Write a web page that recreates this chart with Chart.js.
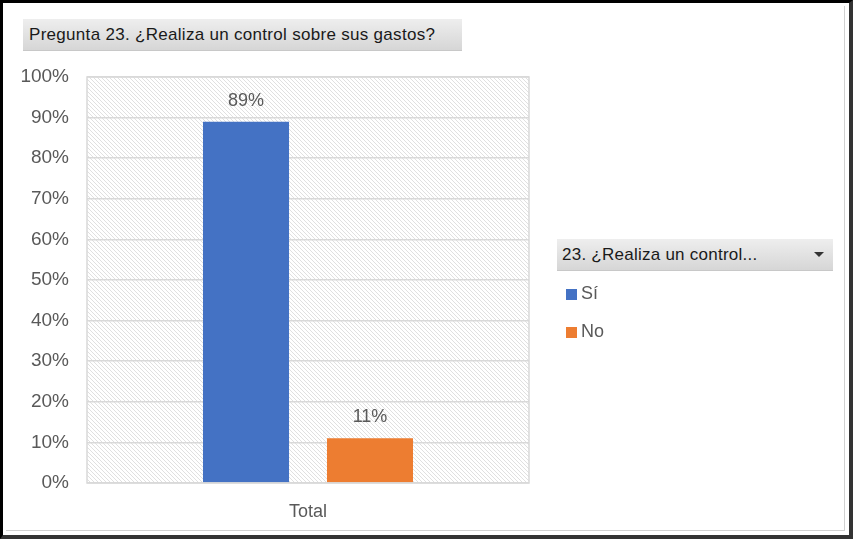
<!DOCTYPE html>
<html>
<head>
<meta charset="utf-8">
<script src="https://cdn.jsdelivr.net/npm/chart.js@4/dist/chart.umd.min.js"></script>
<style>
  html, body { margin:0; padding:0; background:#fff; }
  #wrap { position:relative; width:853px; height:539px; overflow:hidden; font-family:"Liberation Sans", Arial, sans-serif; }
  #c { position:absolute; left:0; top:0; }
  #frame { position:absolute; left:0; top:0; width:853px; height:539px; box-sizing:border-box;
           border-left:3px solid #000; border-top:3px solid #000; border-right:4px solid #333; border-bottom:4px solid #333; pointer-events:none; }
  #frame2 { position:absolute; left:3px; top:3px; right:4px; bottom:4px; border-right:1px solid #d0d0d0; border-bottom:1px solid #d0d0d0; }
  .box { position:absolute; box-sizing:border-box; background:linear-gradient(#eeeeee, #d6d6d6); border-bottom:1px solid #c8c8c8; color:#1a1a1a; font-size:17px; white-space:nowrap; }
  #title { left:23px; top:19px; width:439px; height:32px; line-height:32px; padding-left:6px; letter-spacing:0.3px; }
  #lhead { left:557px; top:239px; width:276px; height:32px; line-height:32px; padding-left:5px; letter-spacing:0.25px; }
  #arrow { position:absolute; right:9px; top:13px; width:0; height:0; border-left:5px solid transparent; border-right:5px solid transparent; border-top:5px solid #333; }
  .item { position:absolute; left:566px; font-size:18px; color:#595959; height:20px; line-height:20px; }
  .sw { display:inline-block; width:11px; height:11px; margin-right:4px; vertical-align:-1px; }
</style>
</head>
<body>
<div id="wrap">
  <canvas id="c" width="853" height="539"></canvas>
  <div id="title" class="box">Pregunta 23. ¿Realiza un control sobre sus gastos?</div>
  <div id="lhead" class="box">23. ¿Realiza un control...<span id="arrow"></span></div>
  <div id="legend"></div>
  <div id="frame"><div id="frame2"></div></div>
</div>
<script>
const categories = ['Total'];
const seriesLabels = ['Sí', 'No'];
const siValues = [89];
const noValues = [11];
const seriesColors = ['#4472C4', '#ED7D31'];
const yTickValues = [0, 10, 20, 30, 40, 50, 60, 70, 80, 90, 100];

// legend
const legendEl = document.getElementById('legend');
const legendTops = [283, 321];
seriesLabels.forEach((lab, i) => {
  const d = document.createElement('div');
  d.className = 'item';
  d.style.top = legendTops[i] + 'px';
  d.innerHTML = '<span class="sw" style="background:' + seriesColors[i] + '"></span>' + lab;
  legendEl.appendChild(d);
});

// hatch pattern
function makePattern(ctx) {
  const t = document.createElement('canvas');
  t.width = 4; t.height = 4;
  const g = t.getContext('2d');
  g.fillStyle = '#ffffff';
  g.fillRect(0, 0, 4, 4);
  g.fillStyle = '#e0e0e0';
  for (let y = 0; y < 4; y++) {
    g.fillRect(y, y, 1, 1);
  }
  return ctx.createPattern(t, 'repeat');
}

const bgPlugin = {
  id: 'bgPattern',
  beforeDraw(chart) {
    const { ctx, chartArea: a } = chart;
    ctx.save();
    ctx.fillStyle = makePattern(ctx);
    ctx.fillRect(a.left, a.top, a.right - a.left, a.bottom - a.top);
    ctx.restore();
  },
  afterDatasetsDraw(chart) {
    const { ctx, chartArea: a } = chart;
    ctx.save();
    ctx.strokeStyle = '#d9d9d9';
    ctx.lineWidth = 1.5;
    ctx.strokeRect(a.left, a.top, a.right - a.left, a.bottom - a.top);
    ctx.restore();
  }
};

const labelPlugin = {
  id: 'valLabels',
  afterDatasetsDraw(chart) {
    const { ctx } = chart;
    ctx.save();
    ctx.font = '18px "Liberation Sans", Arial, sans-serif';
    ctx.fillStyle = '#595959';
    ctx.textAlign = 'center';
    ctx.textBaseline = 'middle';
    chart.data.datasets.forEach((ds, di) => {
      chart.getDatasetMeta(di).data.forEach((el, i) => {
        ctx.fillText(ds.data[i] + '%', el.x, el.y - 21);
      });
    });
    ctx.restore();
  }
};

new Chart(document.getElementById('c'), {
  type: 'bar',
  data: {
    labels: categories,
    datasets: [
      { label: seriesLabels[0], data: siValues, backgroundColor: seriesColors[0] },
      { label: seriesLabels[1], data: noValues, backgroundColor: seriesColors[1] }
    ]
  },
  options: {
    responsive: false,
    animation: false,
    events: [],
    layout: { padding: { left: 0, right: 324, top: 77, bottom: 0 } },
    categoryPercentage: 0.561,
    barPercentage: 0.694,
    plugins: { legend: { display: false }, title: { display: false }, tooltip: { enabled: false } },
    scales: {
      x: {
        grid: { display: false, drawTicks: false },
        border: { display: false },
        ticks: { color: '#595959', font: { family: '"Liberation Sans", Arial, sans-serif', size: 18 }, padding: 18 },
        afterFit(s) { s.height = 56; }
      },
      y: {
        min: 0, max: 100,
        afterBuildTicks(s) { s.ticks = yTickValues.map(v => ({ value: v })); },
        grid: { color: '#d9d9d9', lineWidth: 1.5, drawTicks: false },
        border: { display: false },
        ticks: { color: '#595959', font: { family: '"Liberation Sans", Arial, sans-serif', size: 19 }, padding: 18,
                 callback: v => v + '%' },
        afterFit(s) { s.width = 87; }
      }
    }
  },
  plugins: [bgPlugin, labelPlugin]
});
</script>
</body>
</html>
